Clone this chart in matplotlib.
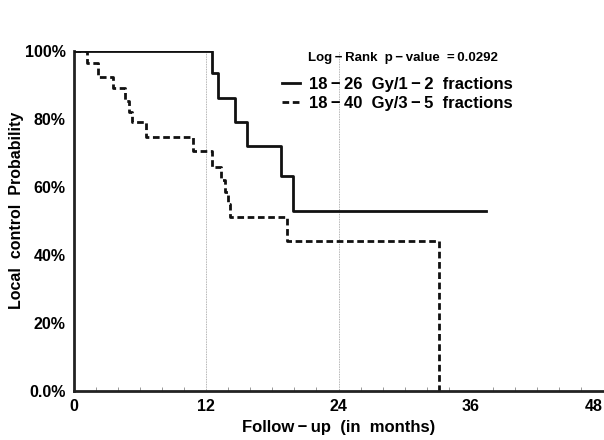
import numpy as np
import matplotlib.pyplot as plt

plt.rcParams['font.family'] = ['Liberation Sans', 'DejaVu Sans']

# group 1: 18-26 Gy / 1-2 fractions
t_single = [0, 12.5, 13.1, 14.6, 15.7, 18.8, 19.9, 37.4]
s_single = [1.0, 0.933, 0.860, 0.790, 0.720, 0.632, 0.528, 0.528]

# group 2: 18-40 Gy / 3-5 fractions
t_multi = [0, 1.15, 2.2, 3.5, 4.6, 5.0, 5.3, 6.5, 10.8, 12.5, 13.3, 13.7,
           14.0, 14.2, 19.3, 33.1]
s_multi = [1.0, 0.963, 0.924, 0.889, 0.852, 0.82, 0.791, 0.747, 0.706,
           0.657, 0.62, 0.585, 0.55, 0.51, 0.44, 0.0]

labels = ['18\u2009\u2212\u200926  Gy/1\u2009\u2212\u20092  fractions',
          '18\u2009\u2212\u200940  Gy/3\u2009\u2212\u20095  fractions']
xticks = [0, 12, 24, 36, 48]
yticks = [0, 0.2, 0.4, 0.6, 0.8, 1.0]
yticklabels = ['0.0%', '20%', '40%', '60%', '80%', '100%']

fig = plt.figure(figsize=(6.04, 4.40), dpi=100)
ax = fig.add_axes([74/604, 1 - 390.7/440, 529/604, 340/440])

for g in [12, 24]:
    ax.axvline(g, color='#999999', lw=0.6, ls=(0, (1, 1)), zorder=0)

ax.step(t_single, s_single, where='post', color='#111111', lw=2.0,
        label=labels[0], zorder=3)
ax.step(t_multi, s_multi, where='post', color='#111111', lw=2.0,
        ls=(0, (2.4, 1.3)), label=labels[1], zorder=2)

ax.set_xlim(0, 48)
ax.set_ylim(0, 1.0)
ax.set_xticks(xticks)
ax.set_xticks(np.arange(0, 49, 2), minor=True)
ax.set_yticks(yticks)
ax.set_yticklabels(yticklabels)
ax.tick_params(axis='both', which='major', length=0, labelsize=11.5, pad=6)
ax.tick_params(axis='x', which='minor', direction='in', length=3, width=0.6,
               color='#888888')
ax.tick_params(axis='y', which='minor', length=0)
for lab in ax.get_xticklabels() + ax.get_yticklabels():
    lab.set_fontweight('bold')
ax.get_xticklabels()[-1].set_horizontalalignment('right')

for side in ['top', 'right']:
    ax.spines[side].set_visible(False)
for side in ['left', 'bottom']:
    ax.spines[side].set_linewidth(2.0)
    ax.spines[side].set_color('#222222')
ax.patch.set_alpha(0)

ax.set_xlabel('Follow\u2009\u2212\u2009up  (in  months)', fontsize=12,
              fontweight='bold', labelpad=4)
ax.set_ylabel('Local  control  Probability', fontsize=11.5, fontweight='bold')
ax.yaxis.set_label_coords(-0.095, 0.53)

fig.text(308/604, 1 - 58/440,
         'Log\u2009\u2212\u2009Rank  p\u2009\u2212\u2009value  =\u20090.0292',
         fontsize=9.5, fontweight='bold', va='center', ha='left')
ax.legend(loc='upper left', bbox_to_anchor=(282/604, 1 - 77/440),
          bbox_transform=fig.transFigure, frameon=False,
          handlelength=1.1, handletextpad=0.5, labelspacing=0.25,
          borderaxespad=0, borderpad=0, prop={'weight': 'bold', 'size': 12})

fig.savefig('out.png', dpi=100)
